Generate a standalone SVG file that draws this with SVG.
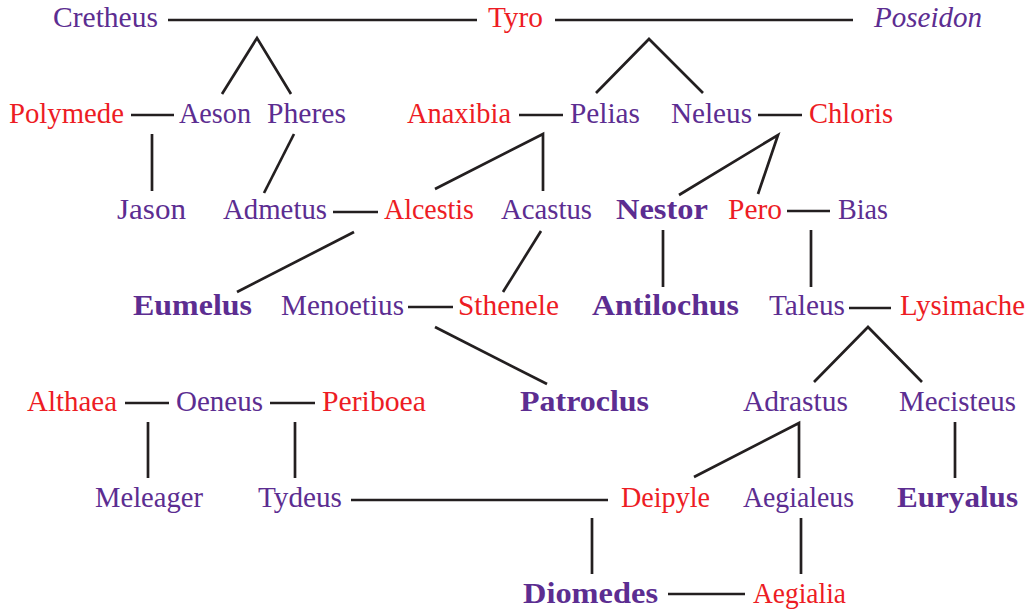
<svg xmlns="http://www.w3.org/2000/svg" width="1034" height="611" viewBox="0 0 1034 611">
<style>
text{font-family:"Liberation Serif","Times New Roman",serif;font-size:29px}
.p{fill:#5c2d91}
.r{fill:#ed1c24}
.b{font-weight:bold}
.i{font-style:italic}
#connectors{stroke:#231f20;stroke-width:2.7;fill:none;stroke-linecap:butt;stroke-linejoin:miter}
</style>
<rect width="1034" height="611" fill="#ffffff"/>
<g id="connectors">
<line x1="168" y1="20" x2="477" y2="20"/>
<line x1="555" y1="20" x2="853" y2="20"/>
<polyline points="222,94 257,38 291,94"/>
<polyline points="596,93 649,39 703,93"/>
<line x1="131" y1="115" x2="174" y2="115"/>
<line x1="519" y1="115" x2="563" y2="115"/>
<line x1="758" y1="115" x2="802" y2="115"/>
<line x1="152" y1="134" x2="152" y2="191"/>
<line x1="294" y1="134" x2="264" y2="193"/>
<polyline points="435,189 543,134 543,191"/>
<polyline points="679,195 778,135 758,194"/>
<line x1="787" y1="211" x2="830" y2="211"/>
<line x1="333" y1="212" x2="378" y2="212"/>
<line x1="354" y1="232" x2="237" y2="292"/>
<line x1="541" y1="231" x2="503" y2="292"/>
<line x1="663" y1="230" x2="663" y2="287"/>
<line x1="811" y1="230" x2="811" y2="287"/>
<line x1="408" y1="307" x2="453" y2="307"/>
<line x1="849" y1="308" x2="891" y2="308"/>
<line x1="435" y1="327" x2="547" y2="384"/>
<polyline points="814,382 868,327 922,382"/>
<line x1="125" y1="403" x2="169" y2="403"/>
<line x1="270" y1="403" x2="315" y2="403"/>
<line x1="148" y1="422" x2="148" y2="478"/>
<line x1="295" y1="422" x2="295" y2="478"/>
<polyline points="694,477 799,423 799,478"/>
<line x1="955" y1="422" x2="955" y2="478"/>
<line x1="351" y1="500" x2="608" y2="500"/>
<line x1="592" y1="518" x2="592" y2="574"/>
<line x1="801" y1="518" x2="801" y2="574"/>
<line x1="668" y1="594" x2="745" y2="594"/>
</g>
<g id="cretheus"><text class="p" x="53" y="27" textLength="105" lengthAdjust="spacingAndGlyphs">Cretheus</text></g>
<g id="tyro"><text class="r" x="488" y="27" textLength="55" lengthAdjust="spacingAndGlyphs">Tyro</text></g>
<g id="poseidon"><text class="p i" x="874" y="27" textLength="108" lengthAdjust="spacingAndGlyphs">Poseidon</text></g>
<g id="polymede"><text class="r" x="9" y="123" textLength="115" lengthAdjust="spacingAndGlyphs">Polymede</text></g>
<g id="aeson"><text class="p" x="179" y="123" textLength="72" lengthAdjust="spacingAndGlyphs">Aeson</text></g>
<g id="pheres"><text class="p" x="267" y="123" textLength="79" lengthAdjust="spacingAndGlyphs">Pheres</text></g>
<g id="anaxibia"><text class="r" x="407" y="123" textLength="104" lengthAdjust="spacingAndGlyphs">Anaxibia</text></g>
<g id="pelias"><text class="p" x="570" y="123" textLength="70" lengthAdjust="spacingAndGlyphs">Pelias</text></g>
<g id="neleus"><text class="p" x="671" y="123" textLength="81" lengthAdjust="spacingAndGlyphs">Neleus</text></g>
<g id="chloris"><text class="r" x="809" y="123" textLength="84" lengthAdjust="spacingAndGlyphs">Chloris</text></g>
<g id="jason"><text class="p" x="117" y="219" textLength="69" lengthAdjust="spacingAndGlyphs">Jason</text></g>
<g id="admetus"><text class="p" x="223" y="219" textLength="104" lengthAdjust="spacingAndGlyphs">Admetus</text></g>
<g id="alcestis"><text class="r" x="384" y="219" textLength="90" lengthAdjust="spacingAndGlyphs">Alcestis</text></g>
<g id="acastus"><text class="p" x="501" y="219" textLength="91" lengthAdjust="spacingAndGlyphs">Acastus</text></g>
<g id="nestor"><text class="p b" x="616" y="219" textLength="92" lengthAdjust="spacingAndGlyphs">Nestor</text></g>
<g id="pero"><text class="r" x="728" y="219" textLength="54" lengthAdjust="spacingAndGlyphs">Pero</text></g>
<g id="bias"><text class="p" x="838" y="219" textLength="50" lengthAdjust="spacingAndGlyphs">Bias</text></g>
<g id="eumelus"><text class="p b" x="133" y="315" textLength="119" lengthAdjust="spacingAndGlyphs">Eumelus</text></g>
<g id="menoetius"><text class="p" x="281" y="315" textLength="123" lengthAdjust="spacingAndGlyphs">Menoetius</text></g>
<g id="sthenele"><text class="r" x="458" y="315" textLength="101" lengthAdjust="spacingAndGlyphs">Sthenele</text></g>
<g id="antilochus"><text class="p b" x="592" y="315" textLength="147" lengthAdjust="spacingAndGlyphs">Antilochus</text></g>
<g id="taleus"><text class="p" x="769" y="315" textLength="76" lengthAdjust="spacingAndGlyphs">Taleus</text></g>
<g id="lysimache"><text class="r" x="900" y="315" textLength="125" lengthAdjust="spacingAndGlyphs">Lysimache</text></g>
<g id="althaea"><text class="r" x="27" y="411" textLength="90" lengthAdjust="spacingAndGlyphs">Althaea</text></g>
<g id="oeneus"><text class="p" x="176" y="411" textLength="87" lengthAdjust="spacingAndGlyphs">Oeneus</text></g>
<g id="periboea"><text class="r" x="322" y="411" textLength="104" lengthAdjust="spacingAndGlyphs">Periboea</text></g>
<g id="patroclus"><text class="p b" x="520" y="411" textLength="129" lengthAdjust="spacingAndGlyphs">Patroclus</text></g>
<g id="adrastus"><text class="p" x="743" y="411" textLength="105" lengthAdjust="spacingAndGlyphs">Adrastus</text></g>
<g id="mecisteus"><text class="p" x="899" y="411" textLength="117" lengthAdjust="spacingAndGlyphs">Mecisteus</text></g>
<g id="meleager"><text class="p" x="95" y="507" textLength="108" lengthAdjust="spacingAndGlyphs">Meleager</text></g>
<g id="tydeus"><text class="p" x="258" y="507" textLength="84" lengthAdjust="spacingAndGlyphs">Tydeus</text></g>
<g id="deipyle"><text class="r" x="621" y="507" textLength="89" lengthAdjust="spacingAndGlyphs">Deipyle</text></g>
<g id="aegialeus"><text class="p" x="743" y="507" textLength="111" lengthAdjust="spacingAndGlyphs">Aegialeus</text></g>
<g id="euryalus"><text class="p b" x="897" y="507" textLength="121" lengthAdjust="spacingAndGlyphs">Euryalus</text></g>
<g id="diomedes"><text class="p b" x="523" y="603" textLength="135" lengthAdjust="spacingAndGlyphs">Diomedes</text></g>
<g id="aegialia"><text class="r" x="753" y="603" textLength="93" lengthAdjust="spacingAndGlyphs">Aegialia</text></g>
</svg>
